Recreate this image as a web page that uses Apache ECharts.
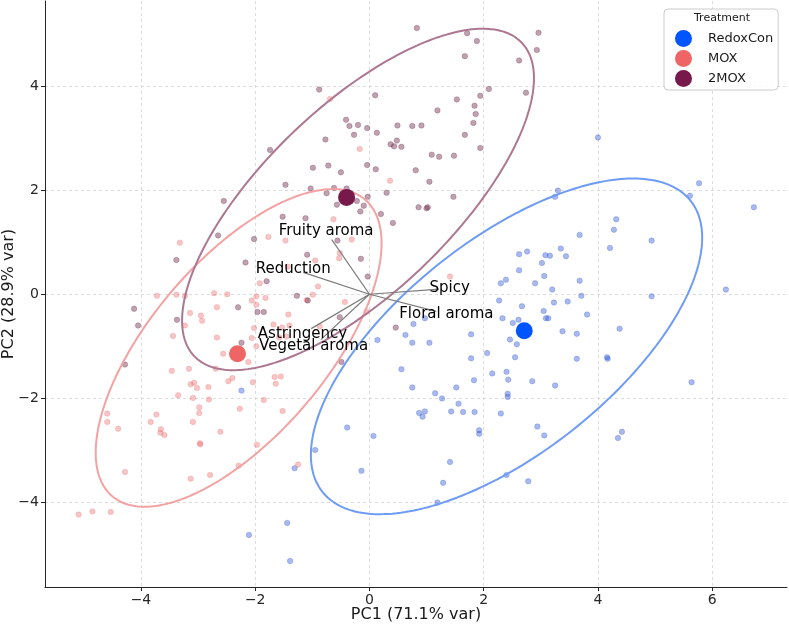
<!DOCTYPE html>
<html><head><meta charset="utf-8">
<script src="https://cdn.jsdelivr.net/npm/echarts@6/dist/echarts.min.js"></script>
<style>html,body{margin:0;padding:0;background:#fff}#c{width:789px;height:625px}</style>
</head><body><div id="c"></div>
<script>
const groups = ['RedoxCon', 'MOX', '2MOX'];
const legendTitle = 'Treatment';
const xTitle = 'PC1 (71.1% var)';
const yTitle = 'PC2 (28.9% var)';
const xTicks = [-4, -2, 0, 2, 4, 6];
const yTicks = [-4, -2, 0, 2, 4];

const redoxConPoints = [
[4.00,3.01],[5.77,2.13],[5.61,1.89],[6.73,1.67],[3.30,1.99],[3.25,1.87],[4.32,1.44],[4.28,1.24],[3.68,1.14],[4.94,1.03],
[4.21,0.89],[2.62,0.77],[2.76,0.82],[3.08,0.75],[3.16,0.74],[3.35,0.88],[3.44,0.73],[3.02,0.60],[2.62,0.46],[3.06,0.35],
[3.68,0.26],[2.30,0.21],[2.39,0.28],[2.90,0.21],[3.20,0.09],[3.71,-0.03],[4.94,-0.04],[6.24,0.09],[2.27,-0.12],[2.67,-0.23],
[3.23,-0.16],[3.47,-0.14],[3.05,-0.32],[3.81,-0.39],[2.33,-0.46],[2.61,-0.49],[3.09,-0.46],[3.13,-0.46],[2.51,-0.55],[3.38,-0.71],
[3.63,-0.76],[4.38,-0.66],[3.63,-1.24],[4.16,-1.21],[4.17,-1.24],[3.25,-1.75],[5.64,-1.69],[0.63,-0.78],[0.77,-0.57],[0.97,-0.46],
[1.78,-0.77],[2.46,-0.87],[2.58,-0.96],[0.75,-0.93],[1.05,-0.93],[1.78,-1.23],[2.55,-1.21],[2.06,-1.13],[0.56,-1.44],[2.15,-1.52],
[2.40,-1.49],[2.43,-1.64],[1.83,-1.65],[2.85,-1.67],[0.75,-1.79],[1.52,-1.79],[1.15,-1.90],[2.42,-1.91],[2.42,-1.97],[1.27,-2.00],
[1.56,-2.10],[0.87,-2.28],[0.97,-2.25],[0.93,-2.35],[1.43,-2.25],[1.64,-2.26],[1.84,-2.26],[2.30,-2.29],[1.92,-2.61],[1.92,-2.68],
[2.94,-2.54],[3.06,-2.71],[4.35,-2.76],[4.42,-2.64],[1.41,-3.22],[1.29,-3.62],[2.40,-3.47],[2.78,-3.59],[1.19,-4.00],[-0.39,-2.56],
[0.07,-2.72],[-0.95,-2.99],[-1.31,-3.34],[-0.14,-3.39],[-1.44,-4.39],[-2.11,-4.62],[-1.39,-5.12],[-2.24,-1.85],[0.14,-0.88]
];

const moxPoints = [
[-0.69,3.75],[-0.17,2.79],[0.36,2.18],[1.41,0.34],[-3.32,0.99],[-3.72,-0.03],[-3.38,-0.01],[-3.23,-0.03],[-2.72,0.02],[-2.49,0.00],
[-2.06,-0.12],[-1.98,-0.04],[-3.23,-0.60],[-3.14,-0.36],[-2.95,-0.41],[-2.93,-0.51],[-2.67,-0.25],[-3.44,-0.80],[-2.67,-0.83],[-1.98,-0.20],
[-2.06,-0.84],[-1.68,-0.58],[-1.53,-0.64],[-1.40,-0.60],[-0.87,-0.62],[-3.46,-1.47],[-3.16,-1.43],[-3.13,-1.73],[-3.07,-1.70],[-3.02,-1.80],
[-2.82,-1.78],[-2.47,-1.67],[-2.40,-1.61],[-2.04,-1.69],[-1.66,-1.59],[-1.64,-1.72],[-1.55,-1.58],[-3.35,-1.94],[-3.09,-1.99],[-2.81,-2.02],
[-1.85,-2.03],[-4.59,-2.29],[-4.59,-2.45],[-4.40,-2.58],[-3.73,-2.31],[-3.83,-2.45],[-3.65,-2.59],[-3.66,-2.66],[-3.59,-2.70],[-2.98,-2.17],
[-2.98,-2.28],[-3.09,-2.45],[-2.61,-2.64],[-2.27,-2.20],[-1.52,-2.24],[-2.97,-2.86],[-2.96,-2.88],[-1.97,-2.89],[-1.25,-3.27],[-2.29,-3.29],
[-4.28,-3.41],[-3.13,-3.54],[-2.79,-3.47],[-5.09,-4.23],[-4.85,-4.17],[-4.53,-4.18],[-1.98,-1.00],[-2.56,-1.14],[-2.69,-1.43],[-2.12,-1.30],
[-1.77,1.10],[-1.47,1.03],[-0.63,1.44],[-0.31,1.05],[-0.52,0.79],[-0.53,0.69],[-0.95,0.65],[-1.43,0.53],[-0.90,0.15],[-1.92,0.21],
[-0.99,-0.01],[-1.10,-0.11],[-0.05,-0.33],[-0.43,-0.15],[-1.82,-0.07],[-1.42,-0.39],[-1.58,-0.83],[-1.45,-0.81],[-2.02,-0.65]
];

const mox2Points = [
[0.83,5.11],[1.71,5.01],[1.88,4.86],[2.96,5.02],[2.93,4.69],[2.62,4.49],[1.67,4.57],[-0.88,3.93],[0.10,3.82],[2.09,3.94],
[1.94,3.81],[2.74,3.87],[1.53,3.74],[1.19,3.53],[1.84,3.62],[1.86,3.46],[1.82,3.29],[-0.41,3.35],[-0.35,3.23],[-0.20,3.25],
[-0.04,3.19],[0.49,3.24],[0.75,3.23],[0.91,3.24],[-0.27,3.06],[0.13,3.10],[1.67,3.06],[-0.77,2.97],[0.48,2.95],[0.37,2.88],
[0.43,2.84],[0.56,2.83],[1.94,2.81],[-1.74,2.77],[1.09,2.68],[1.22,2.64],[1.48,2.66],[-0.99,2.43],[-0.72,2.47],[-0.04,2.48],
[0.11,2.40],[-0.50,2.34],[0.81,2.38],[1.05,2.16],[-1.47,2.10],[-1.03,2.03],[-0.62,2.04],[-0.75,1.94],[-0.40,2.03],[0.30,1.95],
[-0.03,1.87],[1.47,1.87],[0.86,1.67],[1.02,1.67],[1.00,1.65],[0.41,1.37],[0.46,-0.64],[-2.55,1.79],[-2.65,1.13],[-2.02,1.06],
[-3.38,0.66],[-2.17,0.61],[-4.12,-0.28],[-4.05,-0.60],[-4.28,-1.35],[-3.37,-0.49],[-2.30,-0.25],[-1.96,-0.34],[-1.85,-0.34],[-1.08,-0.12],
[-0.52,-0.44],[-0.49,-1.30],[-2.24,-0.93],[-0.57,1.72],[-0.22,1.79],[-0.10,1.70],[0.20,1.54],[-1.52,1.49],[-1.12,1.46],[-0.16,1.59],
[-0.56,1.03],[-1.09,0.76],[-0.15,0.68],[-0.03,0.34],[-1.80,0.25],[-1.27,-0.03]
];

const centroidX = [2.71, -2.31, -0.40];
const centroidY = [-0.70, -1.14, 1.86];

// confidence ellipse parameters: centre x, centre y, semi-axis a, semi-axis b, rotation (deg)
const ellipseCx = [2.40, -2.29, -0.20];
const ellipseCy = [-1.00, -1.03, 1.82];
const ellipseA = [4.27, 3.61, 4.16];
const ellipseB = [1.97, 1.59, 1.71];
const ellipseAngle = [42.3, 53.4, 47.5];

const loadingNames = ['Fruity aroma', 'Reduction', 'Spicy', 'Floral aroma', 'Astringency', 'Vegetal aroma'];
const loadingX = [-0.66, -1.16, 1.22, 1.17, -1.02, -0.85];
const loadingY = [1.05, 0.42, 0.10, -0.33, -0.66, -0.87];
const labelScale = 1.15;

const FONT = '"DejaVu Sans", sans-serif';
const centroidColors = ['#0055ff', '#ef6464', '#771a4b'];
const pointColors = ['rgba(40,80,210,0.5)', 'rgba(235,110,110,0.5)', 'rgba(110,40,75,0.55)'];
const ellipseColors = ['#6d9bf5', '#f2a2a2', '#ad7791'];

function ellipsePath(i) {
  const out = [];
  const th = ellipseAngle[i] * Math.PI / 180;
  const c = Math.cos(th), s = Math.sin(th);
  const N = 240;
  for (let k = 0; k <= N; k++) {
    const t = 2 * Math.PI * k / N;
    const u = ellipseA[i] * Math.cos(t), v = ellipseB[i] * Math.sin(t);
    out.push([ellipseCx[i] + u * c - v * s, ellipseCy[i] + u * s + v * c]);
  }
  return out;
}

const pointSets = [redoxConPoints, moxPoints, mox2Points];
const series = [];
groups.forEach((g, i) => {
  series.push({
    name: g + ' samples', type: 'scatter', data: pointSets[i], symbolSize: 5.5,
    itemStyle: { color: pointColors[i], borderColor: pointColors[i], borderWidth: 0.6 },
    silent: true, z: 2
  });
});
groups.forEach((g, i) => {
  series.push({
    name: g + ' ellipse', type: 'line', data: ellipsePath(i), showSymbol: false, smooth: false,
    lineStyle: { color: ellipseColors[i], width: 2 }, silent: true, z: 3
  });
});
series.push({
  name: 'loadings', type: 'lines', coordinateSystem: 'cartesian2d',
  data: loadingNames.map((n, i) => ({ coords: [[0, 0], [loadingX[i], loadingY[i]]] })),
  lineStyle: { color: '#7a7a7a', width: 1.2, opacity: 1 }, silent: true, z: 4
});
series.push({
  name: 'loading labels', type: 'scatter', symbolSize: 0.1,
  data: loadingNames.map((n, i) => [loadingX[i] * labelScale, loadingY[i] * labelScale, n]),
  itemStyle: { color: 'rgba(0,0,0,0)' },
  label: { show: true, position: 'inside', formatter: p => p.value[2], color: '#000000', fontSize: 15,
           fontFamily: FONT, textBorderWidth: 0, textBorderColor: 'transparent', opacity: 1 },
  silent: true, z: 6
});
groups.forEach((g, i) => {
  series.push({
    name: g, type: 'scatter', data: [[centroidX[i], centroidY[i]]], symbolSize: 17,
    itemStyle: { color: centroidColors[i], opacity: 1 }, silent: true, z: 7
  });
});

const minusFmt = v => String(v).replace('-', '\u2212');
const axisCommon = {
  type: 'value', nameLocation: 'middle', nameMoveOverlap: false,
  nameTextStyle: { fontSize: 16, color: '#1a1a1a', fontFamily: FONT },
  axisLine: { show: true, onZero: false, lineStyle: { color: '#262626', width: 1 } },
  axisTick: { show: true, length: 4, lineStyle: { color: '#262626', width: 1 } },
  axisLabel: { fontSize: 14, color: '#262626', fontFamily: FONT, formatter: minusFmt },
  splitLine: { show: true, lineStyle: { color: '#d4d4d4', width: 0.8, type: [3, 3] } }
};

const chart = echarts.init(document.getElementById('c'), null, { renderer: 'canvas' });
chart.setOption({
  animation: false,
  backgroundColor: '#fff',
  grid: { left: 45, right: 2, top: 1, bottom: 38, containLabel: false, outerBoundsMode: 'none' },
  xAxis: Object.assign({}, axisCommon, {
    min: -5.68, max: 7.31, name: xTitle, nameGap: 20,
    axisTick: Object.assign({}, axisCommon.axisTick, { customValues: xTicks }),
    axisLabel: Object.assign({}, axisCommon.axisLabel, { customValues: xTicks, margin: 6 })
  }),
  yAxis: Object.assign({}, axisCommon, {
    min: -5.62, max: 5.63, name: yTitle, nameGap: 28,
    axisTick: Object.assign({}, axisCommon.axisTick, { customValues: yTicks }),
    axisLabel: Object.assign({}, axisCommon.axisLabel, { customValues: yTicks, margin: 6 })
  }),
  legend: {
    data: groups, orient: 'vertical', left: 664, top: 9,
    padding: [21, 5, 3, 11], itemWidth: 17, itemHeight: 17, itemGap: 3, icon: 'circle',
    textStyle: { fontSize: 13, color: '#1a1a1a', fontFamily: FONT, padding: [0, 0, 0, 11] },
    backgroundColor: 'rgba(255,255,255,0.85)', borderColor: '#cccccc', borderWidth: 1, borderRadius: 4,
    selectedMode: false
  },
  graphic: [{
    type: 'text', x: 722, y: 18.5, z: 100,
    style: { text: legendTitle, align: 'center', verticalAlign: 'middle', font: '11px "DejaVu Sans", sans-serif', fill: '#1a1a1a' }
  }],
  series: series
});
</script></body></html>
